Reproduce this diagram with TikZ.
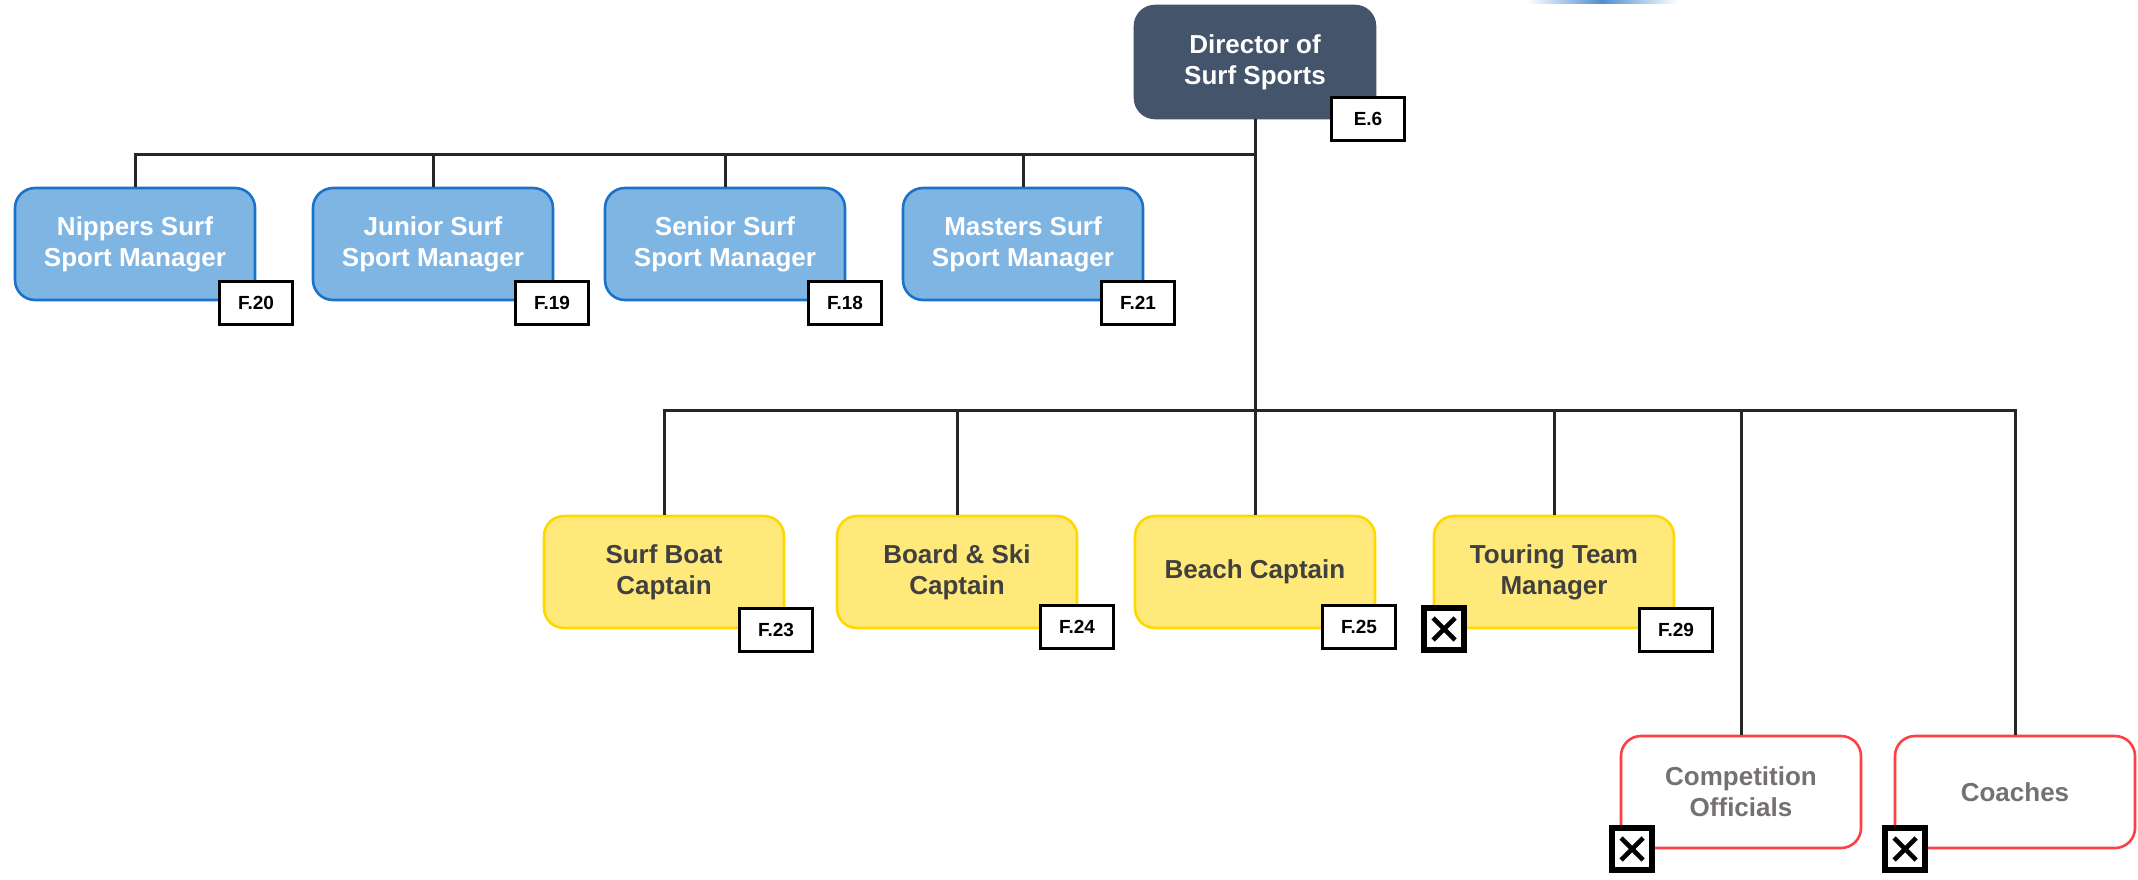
\documentclass[tikz,border=0pt]{standalone}
\usepackage{fontspec}
\setmainfont{Liberation Sans}
\definecolor{dirfill}{HTML}{44546A}
\definecolor{bluefill}{HTML}{7FB5E3}
\definecolor{blueline}{HTML}{1A73C8}
\definecolor{yelfill}{HTML}{FFE97A}
\definecolor{yelline}{HTML}{FFD800}
\definecolor{redline}{HTML}{FF4040}
\definecolor{greytext}{HTML}{767171}
\definecolor{darktext}{HTML}{404040}
\definecolor{conn}{HTML}{262626}
\definecolor{arcblue}{HTML}{4F8FD0}
\begin{document}
\begin{tikzpicture}[x=0.5pt,y=-0.5pt,
  box/.style={rounded corners=10pt, minimum width=120pt, minimum height=56pt, inner sep=0pt, align=center, line width=1.3pt, font=\bfseries\fontsize{13}{15.5}\selectfont},
  dirbox/.style={box, fill=dirfill, draw=dirfill, text=white},
  bluebox/.style={box, fill=bluefill, draw=blueline, text=white},
  yelbox/.style={box, fill=yelfill, draw=yelline, text=darktext},
  redbox/.style={box, fill=white, draw=redline, text=greytext},
  tag/.style={draw=black, fill=white, line width=1.5pt, minimum width=36.5pt, minimum height=21.5pt, inner sep=0pt, font=\bfseries\fontsize{9.5}{10}\selectfont},
  xbox/.style={draw=black, fill=white, line width=2.6pt, minimum width=20pt, minimum height=21pt, inner sep=0pt,
    path picture={
      \draw[line width=2.3pt] ([shift={(4.5pt,-5pt)}]path picture bounding box.north west) -- ([shift={(-4.5pt,5pt)}]path picture bounding box.south east);
      \draw[line width=2.3pt] ([shift={(-4.5pt,-5pt)}]path picture bounding box.north east) -- ([shift={(4.5pt,5pt)}]path picture bounding box.south west);
    }},
  link/.style={draw=conn, line width=1.5pt}
]
\useasboundingbox (0,0) rectangle (2138,879);

% faint arc fragment at top
\shade[left color=white, right color=arcblue] (1527,0) rectangle (1602,3);
\shade[left color=arcblue, right color=white] (1602,0) rectangle (1678,3);

% nodes
\node[dirbox] (dir) at (1255,62) {Director of\\Surf Sports};

\node[bluebox] (nip) at (135,244) {Nippers Surf\\Sport Manager};
\node[bluebox] (jun) at (433,244) {Junior Surf\\Sport Manager};
\node[bluebox] (sen) at (725,244) {Senior Surf\\Sport Manager};
\node[bluebox] (mas) at (1023,244) {Masters Surf\\Sport Manager};

\node[yelbox] (sbc) at (664,572) {Surf Boat\\Captain};
\node[yelbox] (bsc) at (957,572) {Board \& Ski\\Captain};
\node[yelbox] (bc) at (1255,572) {Beach Captain};
\node[yelbox] (ttm) at (1554,572) {Touring Team\\Manager};

\node[redbox] (comp) at (1741,792) {Competition\\Officials};
\node[redbox] (coach) at (2015,792) {Coaches};

% bus coordinates
\coordinate (bus1) at (1255,154);
\coordinate (bus2) at (1255,410);

% connectors
\draw[link] (dir.south) -- (bc.north);
\draw[link] (nip.north) |- (bus1);
\draw[link] (jun.north) |- (bus1);
\draw[link] (sen.north) |- (bus1);
\draw[link] (mas.north) |- (bus1);
\draw[link] (sbc.north) |- (bus2);
\draw[link] (bsc.north) |- (bus2);
\draw[link] (ttm.north) |- (bus2);
\draw[link] (comp.north) |- (bus2);
\draw[link] (coach.north) |- (bus2);

% tags
\node[tag] (tE6) at (1368,119) {E.6};
\node[tag] (tF20) at (256,303) {F.20};
\node[tag] (tF19) at (552,303) {F.19};
\node[tag] (tF18) at (845,303) {F.18};
\node[tag] (tF21) at (1138,303) {F.21};
\node[tag] (tF23) at (776,630) {F.23};
\node[tag] (tF24) at (1077,627) {F.24};
\node[tag] (tF25) at (1359,627) {F.25};
\node[tag] (tF29) at (1676,630) {F.29};

% cross boxes
\node[xbox] (x1) at (1444,629) {};
\node[xbox] (x2) at (1632,849) {};
\node[xbox] (x3) at (1905,849) {};
\end{tikzpicture}
\end{document}
